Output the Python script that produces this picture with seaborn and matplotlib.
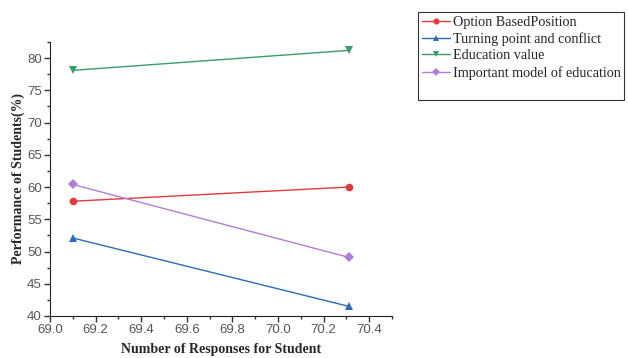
import numpy as np
import pandas as pd
import seaborn as sns
import matplotlib.pyplot as plt
from matplotlib.ticker import MultipleLocator
from matplotlib.lines import Line2D

# values
responses = [69.1, 70.31]
series_names = ['Option BasedPosition', 'Turning point and conflict',
                'Education value', 'Important model of education']
option_based = [57.8, 60.0]
turning_point = [52.1, 41.5]
education_value = [78.1, 81.2]
important_model = [60.4, 49.1]

colors = ['#e0393e', '#2b6cb8', '#3a9c6a', '#b07fd6']
markers = ['o', '^', 'v', 'D']

rows = []
for name, vals in zip(series_names, [option_based, turning_point, education_value, important_model]):
    for x, y in zip(responses, vals):
        rows.append({'x': x, 'y': y, 'series': name})
df = pd.DataFrame(rows)

sns.set_style('ticks')
plt.rcParams['font.family'] = ['Liberation Sans', 'DejaVu Sans']

fig = plt.figure(figsize=(6.28, 3.58), dpi=100)
ax = fig.add_axes([50 / 628, 42 / 358, (392 - 50) / 628, (316 - 42) / 358])

for name, c, m in zip(series_names, colors, markers):
    sub = df[df['series'] == name]
    sns.lineplot(data=sub, x='x', y='y', ax=ax, color=c, marker=m, markersize=5.5,
                 markeredgewidth=0, linewidth=1, label=name)

ax.set_xlim(69.0, 70.5)
ax.set_ylim(40, 82.5)
ax.xaxis.set_major_locator(MultipleLocator(0.2))
ax.xaxis.set_minor_locator(MultipleLocator(0.1))
ax.yaxis.set_major_locator(MultipleLocator(5))
ax.yaxis.set_minor_locator(MultipleLocator(2.5))
ax.tick_params(axis='both', which='major', length=4, width=1, labelsize=9.5, pad=2,
               colors='#333333', labelcolor='#555555')
ax.tick_params(axis='both', which='minor', length=2, width=1, colors='#333333')
ax.xaxis.set_major_formatter(plt.FuncFormatter(lambda v, p: f'{v:.1f}'))
sns.despine(ax=ax)
for s in ['left', 'bottom']:
    ax.spines[s].set_color('#222222')

ax.set_xlabel('Number of Responses for Student', family='Liberation Serif',
              fontweight='bold', fontsize=10, va='center')
ax.xaxis.set_label_coords(0.5, -(349 - 316) / 274)
ax.set_ylabel('Performance of Students(%)', family='Liberation Serif',
              fontweight='bold', fontsize=10, va='center')
ax.yaxis.set_label_coords(-(50 - 18) / 342, 0.5)

handles, labels = ax.get_legend_handles_labels()
handles.append(Line2D([], [], color='none'))
labels.append(' ')
leg = ax.legend(handles, labels, loc='upper left', bbox_to_anchor=(418 / 628, 1 - 12 / 358),
                bbox_transform=fig.transFigure, frameon=True, fancybox=False,
                prop={'family': 'Liberation Serif', 'size': 10.2},
                handlelength=2.0, handletextpad=0.2, labelspacing=0.25,
                borderpad=0.25, borderaxespad=0, markerscale=0.8)
leg.get_frame().set_edgecolor('black')
leg.get_frame().set_linewidth(0.8)

fig.savefig('out.png', dpi=100)
